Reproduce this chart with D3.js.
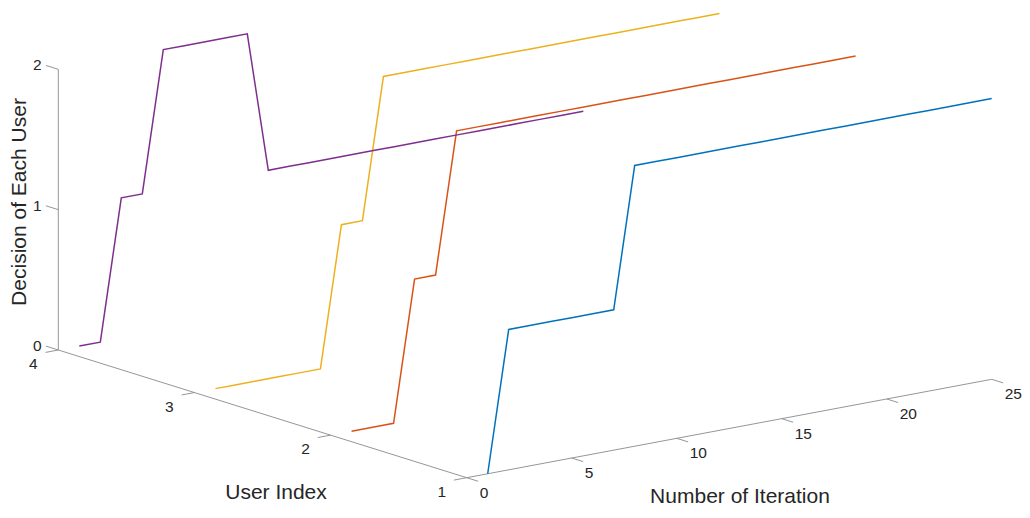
<!DOCTYPE html>
<html><head><meta charset="utf-8">
<script src="https://cdn.jsdelivr.net/npm/d3@7"></script>
<style>body{margin:0;background:#fff}svg{display:block}</style>
</head><body><svg id="chart" width="1030" height="518"></svg>
<script>
// ---- data ----
const iterations = [1,2,3,4,5,6,7,8,9,10,11,12,13,14,15,16,17,18,19,20,21,22,23,24,25];
const userIndex = [1, 2, 3, 4];
const decisionUser1 = [0,1,1,1,1,1,1,2,2,2,2,2,2,2,2,2,2,2,2,2,2,2,2,2,2];
const decisionUser2 = [0,0,0,1,1,2,2,2,2,2,2,2,2,2,2,2,2,2,2,2,2,2,2,2,2];
const decisionUser3 = [0,0,0,0,0,0,1,1,2,2,2,2,2,2,2,2,2,2,2,2,2,2,2,2,2];
const decisionUser4 = [0,0,1,1,2,2,2,2,2,1,1,1,1,1,1,1,1,1,1,1,1,1,1,1,1];
const seriesColors = ["#0072BD", "#D95319", "#EDB120", "#7E2F8E"];
const xTicks = [0, 5, 10, 15, 20, 25];
const yTicks = [1, 2, 3, 4];
const zTicks = [0, 1, 2];
const xLabel = "Number of Iteration";
const yLabel = "User Index";
const zLabel = "Decision of Each User";

// ---- projection (orthographic 3D view) ----
const xs = d3.scaleLinear().domain([0, 25]).range([0, 1]);
const ys = d3.scaleLinear().domain([1, 4]).range([0, 1]);
const zs = d3.scaleLinear().domain([0, 2]).range([0, 1]);
const O = [466.7, 477.7], EX = [525, -98.4], EY = [-408.4, -127.7], EZ = [0, -280.7];
function proj(x, y, z) {
  const a = xs(x), b = ys(y), c = zs(z);
  return [O[0] + a*EX[0] + b*EY[0] + c*EZ[0], O[1] + a*EX[1] + b*EY[1] + c*EZ[1]];
}
const unit = v => { const l = Math.hypot(v[0], v[1]); return [v[0]/l, v[1]/l]; };

const svg = d3.select("#chart");
const font = "'Liberation Sans', Arial, Helvetica, sans-serif";
const axisColor = "#8a8a8a", textColor = "#262626";
const gAxes = svg.append("g");

function seg(p, q) {
  gAxes.append("line").attr("x1", p[0]).attr("y1", p[1]).attr("x2", q[0]).attr("y2", q[1])
    .attr("stroke", axisColor).attr("stroke-width", 0.9);
}
// X axis (y = 1, z = 0)
seg(proj(0, 1, 0), proj(25, 1, 0));
const tx = unit([-EY[0], -EY[1]]);
xTicks.forEach(t => {
  const p = proj(t, 1, 0);
  seg(p, [p[0] + tx[0]*12, p[1] + tx[1]*12]);
  gAxes.append("text").attr("x", p[0] + 13).attr("y", p[1] + 16)
    .attr("dominant-baseline", "middle").attr("font-family", font).attr("font-size", 15.5)
    .attr("fill", textColor).text(t);
});
// Y axis (x = 0, z = 0)
seg(proj(0, 1, 0), proj(0, 4, 0));
const ty = unit([-EX[0], -EX[1]]);
yTicks.forEach(t => {
  const p = proj(0, t, 0);
  seg(p, [p[0] + ty[0]*13, p[1] + ty[1]*13]);
  gAxes.append("text").attr("x", p[0] - 25).attr("y", p[1] + 15)
    .attr("text-anchor", "middle").attr("dominant-baseline", "middle")
    .attr("font-family", font).attr("font-size", 15.5).attr("fill", textColor).text(t);
});
// Z axis (x = 0, y = 4)
seg(proj(0, 4, 0), proj(0, 4, 2));
const tz = unit(EY);
zTicks.forEach(t => {
  const p = proj(0, 4, t);
  seg(p, [p[0] + tz[0]*13, p[1] + tz[1]*13]);
  gAxes.append("text").attr("x", p[0] - 21).attr("y", p[1] - 3)
    .attr("text-anchor", "middle").attr("dominant-baseline", "middle")
    .attr("font-family", font).attr("font-size", 15.5).attr("fill", textColor).text(t);
});

// axis titles
svg.append("text").attr("x", 740).attr("y", 497).attr("text-anchor", "middle")
  .attr("dominant-baseline", "middle").attr("font-family", font).attr("font-size", 21)
  .attr("fill", textColor).text(xLabel);
svg.append("text").attr("x", 276).attr("y", 493).attr("text-anchor", "middle")
  .attr("dominant-baseline", "middle").attr("font-family", font).attr("font-size", 21)
  .attr("fill", textColor).text(yLabel);
svg.append("text").attr("transform", "translate(20,202) rotate(-90)").attr("text-anchor", "middle")
  .attr("dominant-baseline", "middle").attr("font-family", font).attr("font-size", 21)
  .attr("fill", textColor).text(zLabel);

// series lines
const decisions = [decisionUser1, decisionUser2, decisionUser3, decisionUser4];
const line = d3.line();
decisions.forEach((vals, i) => {
  const pts = iterations.map((it, k) => proj(it, userIndex[i], vals[k]));
  svg.append("path").attr("d", line(pts)).attr("fill", "none")
    .attr("stroke", seriesColors[i]).attr("stroke-width", 1.5)
    .attr("stroke-linejoin", "miter");
});
</script></body></html>
